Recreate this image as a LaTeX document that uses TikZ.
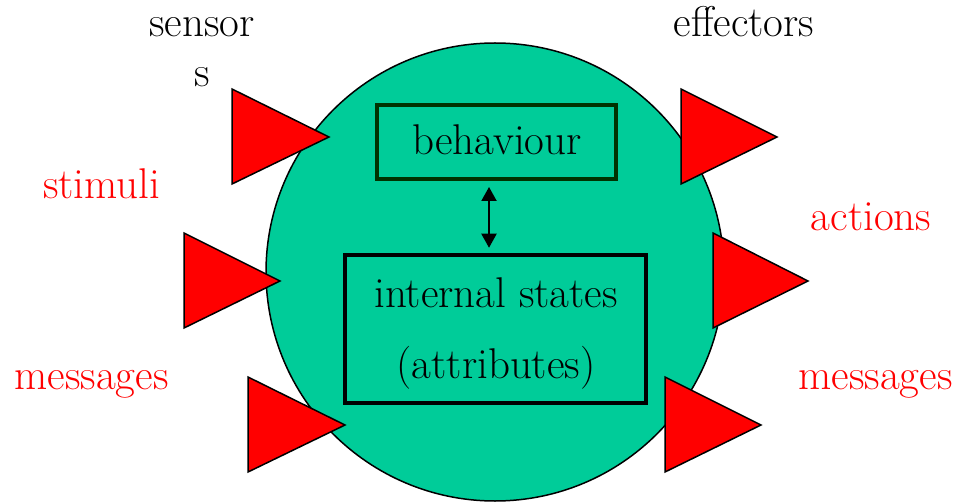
\documentclass[tikz,border=0pt]{standalone}
\usetikzlibrary{arrows.meta}

\definecolor{bodygreen}{RGB}{0,204,153}
\definecolor{darkframe}{RGB}{0,51,0}

\tikzset{
  label text/.style={inner sep=0pt, anchor=base, font=\fontsize{43}{50}\selectfont},
  red text/.style={label text, text=red},
  port/.style={fill=red, draw=black, line width=1.5pt, line join=miter},
  framebox/.style={draw, fill=none, inner sep=0pt},
}

\begin{document}
\begin{tikzpicture}[x=1pt, y=-1pt]
  \useasboundingbox (0,0) rectangle (957,502);

  % agent body
  \node[circle, fill=bodygreen, draw=black, line width=1.5pt, minimum size=458pt, inner sep=0pt] (body) at (495,272) {};

  % sensors (left) and effectors (right)
  \draw[port] (232,89)  -- (232,184) -- (329,137) -- cycle;
  \draw[port] (184,233) -- (184,328) -- (280,281) -- cycle;
  \draw[port] (248,377) -- (248,472) -- (345,425) -- cycle;
  \draw[port] (681,89)  -- (681,184) -- (777,137) -- cycle;
  \draw[port] (713,233) -- (713,328) -- (808,281) -- cycle;
  \draw[port] (665,377) -- (665,472) -- (761,425) -- cycle;

  % inner boxes
  \node[framebox, draw=darkframe, line width=4pt, minimum width=239pt, minimum height=74pt] (beh) at (496.5,142) {};
  \node[framebox, draw=black, line width=4.5pt, minimum width=301pt, minimum height=148pt] (state) at (495.5,329) {};

  \draw[line width=2pt, {Triangle[width=15pt,length=14pt]}-{Triangle[width=15pt,length=14pt]},
        shorten <=6pt, shorten >=5pt]
    ([xshift=-7.5pt]beh.south) -- ([xshift=-6.5pt]state.north);

  % box texts
  \node[label text] (tbeh) at (497,155) {behaviour};
  \node[label text] (tint) at (496,307) {internal states};
  \node[label text] (tattr) at (496,378) {(attributes)};

  % outside labels
  \node[label text] (sens1) at (202,37) {sensor};
  \node[label text] (sens2) at (202,87) {s};
  \node[label text] (eff) at (744,37) {effectors};
  \node[red text] (stim) at (101.5,199) {stimuli};
  \node[red text] (act) at (871,231) {actions};
  \node[red text] (msgin) at (91.5,389) {messages};
  \node[red text] (msgout) at (875.5,389) {messages};
\end{tikzpicture}
\end{document}
